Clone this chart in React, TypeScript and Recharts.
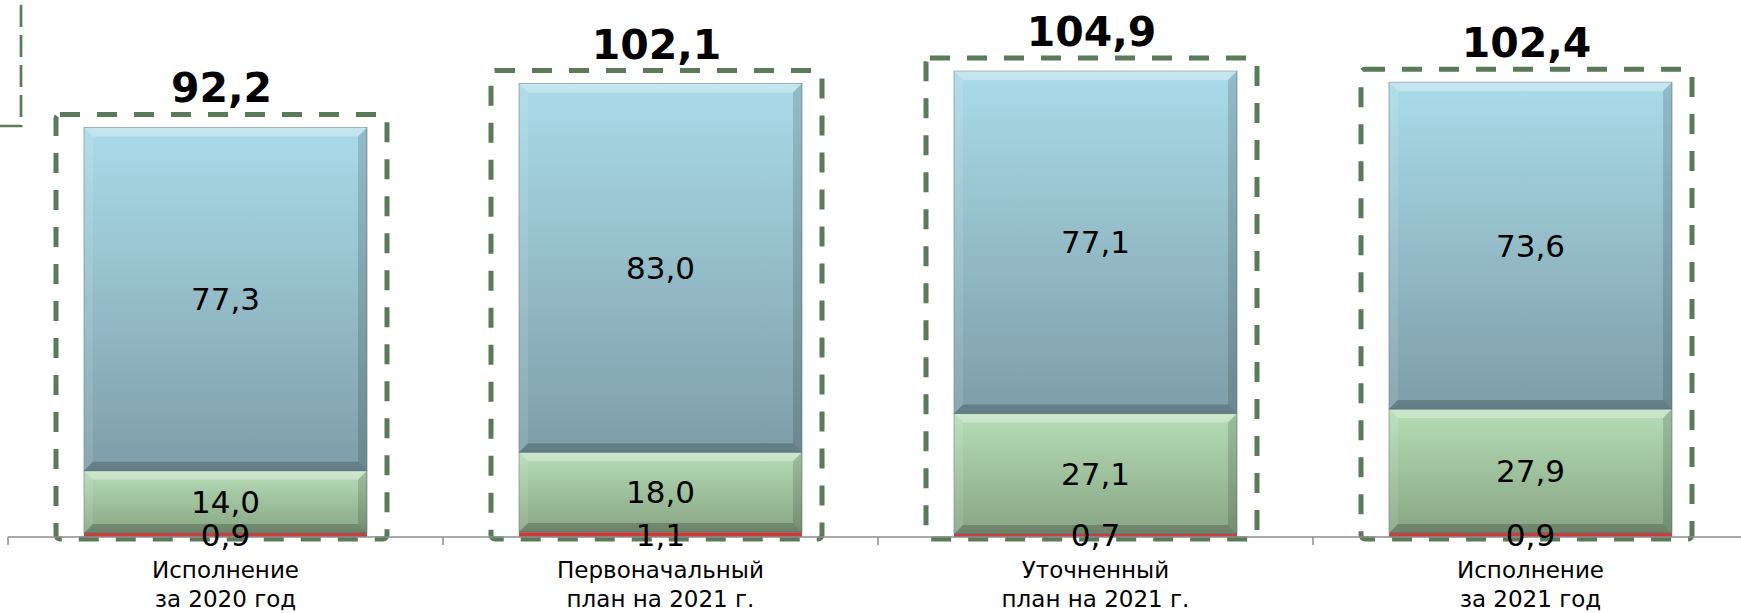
import React from 'react';
import { BarChart, Bar, XAxis, YAxis, LabelList } from 'recharts';

const categories = [
  ['Исполнение', 'за 2020 год'],
  ['Первоначальный', 'план на 2021 г.'],
  ['Уточненный', 'план на 2021 г.'],
  ['Исполнение', 'за 2021 год'],
];
const redValues = [0.9, 1.1, 0.7, 0.9];
const greenValues = [14.0, 18.0, 27.1, 27.9];
const blueValues = [77.3, 83.0, 77.1, 73.6];
const totals = [92.2, 102.1, 104.9, 102.4];

const data = categories.map((c, i) => ({
  name: c.join(' '),
  red: redValues[i],
  green: greenValues[i],
  blue: blueValues[i],
}));

const W = 1748;
const H = 613;
const LEFT = 8;
const HALF_BAND = (W - LEFT) / categories.length / 2;
const BOX = '#5a7a5a';

const fmt = (v: any) => Number(v).toFixed(1).replace('.', ',');

const BevelBar = (props: any) => {
  const { x, y, width: w, height: h, grad, withBox, value } = props;
  if (!h || h <= 0) return null;
  const b = Math.min(9, h / 3);
  let box = null;
  if (withBox && Array.isArray(value)) {
    const scale = h / (value[1] - value[0]);
    const bottom = y + value[1] * scale;
    box = (
      <rect
        x={x - 28}
        y={y - 13}
        width={w + 48}
        height={bottom - y + 15}
        rx={4}
        fill="none"
        stroke={BOX}
        strokeWidth={5}
        strokeDasharray="20 17"
      />
    );
  }
  return (
    <g>
      <rect x={x} y={y} width={w} height={h} fill={`url(#${grad})`} stroke="#5f7a80" strokeWidth={0.6} />
      <polygon points={`${x},${y} ${x + w},${y} ${x + w - b},${y + b} ${x + b},${y + b}`} fill="#ffffff" opacity={0.3} />
      <polygon points={`${x},${y} ${x + b},${y + b} ${x + b},${y + h - b} ${x},${y + h}`} fill="#ffffff" opacity={0.1} />
      <polygon points={`${x + w},${y} ${x + w},${y + h} ${x + w - b},${y + h - b} ${x + w - b},${y + b}`} fill="#000000" opacity={0.14} />
      <polygon points={`${x},${y + h} ${x + w},${y + h} ${x + w - b},${y + h - b} ${x + b},${y + h - b}`} fill="#000000" opacity={0.2} />
      {box}
    </g>
  );
};

const RedBar = (props: any) => {
  const { x, y, width, height } = props;
  return <rect x={x} y={y} width={width} height={height} fill="#d23a3a" />;
};

const TotalLabel = (props: any) => {
  const { x, y, width, index } = props;
  return (
    <text
      x={x + width / 2 - 4}
      y={y - 25}
      textAnchor="middle"
      fontFamily="DejaVu Sans"
      fontWeight="bold"
      fontSize={41}
      fill="#000"
    >
      {fmt(totals[index])}
    </text>
  );
};

const CategoryTick = (props: any) => {
  const { x, y, index } = props;
  const lines = categories[index];
  return (
    <g>
      <line x1={x - HALF_BAND} y1={y - 8} x2={x - HALF_BAND} y2={y} stroke="#8c8c8c" strokeWidth={1.5} />
      {index === categories.length - 1 && (
        <line x1={x + HALF_BAND} y1={y - 8} x2={x + HALF_BAND} y2={y} stroke="#8c8c8c" strokeWidth={1.5} />
      )}
      <text textAnchor="middle" fontFamily="DejaVu Sans" fontSize={23} fill="#000">
        <tspan x={x} y={y + 33}>{lines[0]}</tspan>
        <tspan x={x} y={y + 62}>{lines[1]}</tspan>
      </text>
    </g>
  );
};

const segLabel = { fill: '#000', fontSize: 31, fontFamily: 'DejaVu Sans' };

export default function App() {
  return (
    <div style={{ position: 'absolute', left: 0, top: 0, width: 1741, height: 613, overflow: 'hidden', background: '#fff' }}>
      <svg width={30} height={140} style={{ position: 'absolute', left: 0, top: 0 }}>
        <path d="M0,126 H21 V6 H15" fill="none" stroke={BOX} strokeWidth={2.7} strokeDasharray="22 8" />
      </svg>
      <BarChart width={W} height={H} data={data} margin={{ top: 4, right: 0, left: LEFT, bottom: 0 }} barSize={283}>
        <defs>
          <linearGradient id="gBlue" x1="0" y1="0" x2="0" y2="1">
            <stop offset="0%" stopColor="#aadbe9" />
            <stop offset="100%" stopColor="#7e9ea8" />
          </linearGradient>
          <linearGradient id="gGreen" x1="0" y1="0" x2="0" y2="1">
            <stop offset="0%" stopColor="#b6ddb6" />
            <stop offset="100%" stopColor="#88a584" />
          </linearGradient>
        </defs>
        <XAxis
          dataKey="name"
          interval={0}
          height={76}
          tickSize={8}
          tickMargin={0}
          tickLine={false}
          axisLine={{ stroke: '#8c8c8c', strokeWidth: 1.5 }}
          tick={<CategoryTick />}
        />
        <YAxis hide domain={[0, 120]} />
        <Bar dataKey="red" stackId="a" isAnimationActive={false} shape={<RedBar />}>
          <LabelList dataKey="red" position="center" formatter={fmt} style={segLabel} />
        </Bar>
        <Bar dataKey="green" stackId="a" isAnimationActive={false} shape={<BevelBar grad="gGreen" />}>
          <LabelList dataKey="green" position="center" formatter={fmt} style={segLabel} />
        </Bar>
        <Bar dataKey="blue" stackId="a" isAnimationActive={false} shape={<BevelBar grad="gBlue" withBox />}>
          <LabelList dataKey="blue" position="center" formatter={fmt} style={segLabel} />
          <LabelList dataKey="blue" content={<TotalLabel />} />
        </Bar>
      </BarChart>
    </div>
  );
}
